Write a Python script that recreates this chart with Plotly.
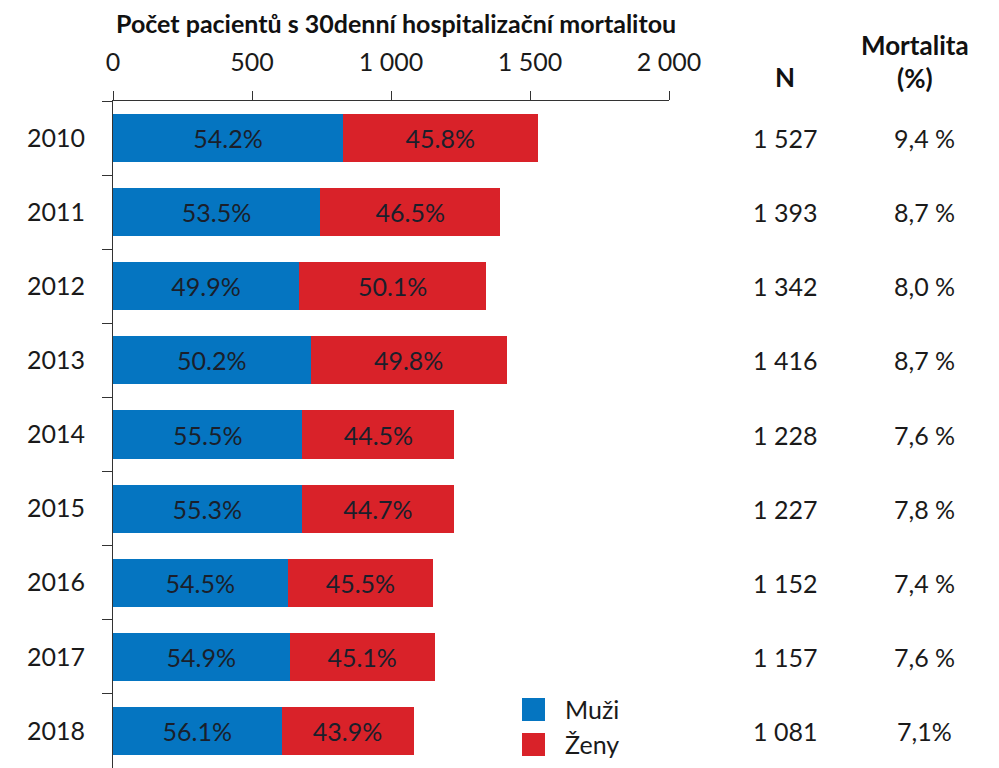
import plotly.graph_objects as go

# Data
roky = ["2010", "2011", "2012", "2013", "2014", "2015", "2016", "2017", "2018"]
n_celkem = [1527, 1393, 1342, 1416, 1228, 1227, 1152, 1157, 1081]
muzi_pct = [54.2, 53.5, 49.9, 50.2, 55.5, 55.3, 54.5, 54.9, 56.1]
zeny_pct = [45.8, 46.5, 50.1, 49.8, 44.5, 44.7, 45.5, 45.1, 43.9]
mortalita = ["9,4 %", "8,7 %", "8,0 %", "8,7 %", "7,6 %", "7,8 %", "7,4 %", "7,6 %", "7,1%"]
osa_x = [0, 500, 1000, 1500, 2000]
osa_x_text = ["0", "500", "1 000", "1 500", "2 000"]
legenda = ["Muži", "Ženy"]

MODRA = "#0575C1"
CERVENA = "#D92229"
FONT = "Lato"
FS = 25

muzi = [n * p / 100 for n, p in zip(n_celkem, muzi_pct)]
zeny = [n * p / 100 for n, p in zip(n_celkem, zeny_pct)]

fig = go.Figure()
for hodnoty, pct, barva, jmeno in [(muzi, muzi_pct, MODRA, legenda[0]), (zeny, zeny_pct, CERVENA, legenda[1])]:
    fig.add_trace(go.Bar(
        y=roky, x=hodnoty, orientation="h", name=jmeno, showlegend=False,
        marker=dict(color=barva, line=dict(width=0)),
        text=[f"{p:.1f}%" for p in pct],
        textposition="inside", insidetextanchor="middle",
        textfont=dict(family=FONT, size=FS, color="#1a1f2b"),
    ))

# pixel (stránka) -> paper; plocha grafu x 113..669, y 101..768
px = lambda x: (x - 113) / 556
py = lambda y: (768 - y) / 667

# Sloupce N a mortalita vpravo (y = index kategorie)
anot = []
for i, (n, m) in enumerate(zip(n_celkem, mortalita)):
    anot.append(dict(x=px(785), y=i, xref="paper", yref="y", xanchor="center", yanchor="middle",
                     text=f"{n:,}".replace(",", " "),
                     showarrow=False, font=dict(family=FONT, size=FS, color="#1a1a1a")))
    anot.append(dict(x=px(924), y=i, xref="paper", yref="y", xanchor="center", yanchor="middle",
                     text=m, showarrow=False, font=dict(family=FONT, size=FS, color="#1a1a1a")))

# hlavičky
hlavicky = [
    (785, 77, "<b>N</b>", 26),
    (915, 45, "<b>Mortalita</b>", 26),
    (915, 78, "<b>(%)</b>", 26),
    (396, 23, "<b>Počet pacientů s 30denní hospitalizační mortalitou</b>", 25),
]
for x, y, txt, fs in hlavicky:
    anot.append(dict(x=px(x), y=py(y), xref="paper", yref="paper", xanchor="center", yanchor="middle",
                     text=txt, showarrow=False, font=dict(family=FONT, size=fs, color="#111")))

# vlastní legenda se čtverci
shapes = []
for j, (jmeno, barva) in enumerate(zip(legenda, [MODRA, CERVENA])):
    y0 = 698 + 35 * j
    shapes.append(dict(type="rect", xref="paper", yref="paper", x0=px(522), x1=px(545),
                       y0=py(y0 + 23), y1=py(y0), fillcolor=barva, line=dict(width=0)))
    anot.append(dict(x=px(563), y=py(y0 + 11), xref="paper", yref="paper", xanchor="left",
                     yanchor="middle", text=jmeno, showarrow=False,
                     font=dict(family=FONT, size=FS, color="#1a1a1a")))

# stránka má okraj 8 px, proto 991x760
fig.update_layout(
    barmode="stack",
    bargap=0.35,
    width=991, height=760,
    margin=dict(l=105, r=330, t=93, b=0),
    paper_bgcolor="white", plot_bgcolor="white",
    font=dict(family=FONT, size=FS, color="#1a1a1a"),
    xaxis=dict(side="top", range=[0, 2000], tickvals=osa_x, ticktext=osa_x_text,
               showline=True, linecolor="#333", linewidth=1, ticks="outside",
               ticklen=9, tickcolor="#333", showgrid=False, zeroline=False,
               ticklabelstandoff=10, tickfont=dict(size=FS)),
    yaxis=dict(type="category", range=[8.5, -0.5], showline=True, linecolor="#333",
               linewidth=1, ticks="outside", tickson="boundaries", ticklen=10,
               tickcolor="#333", showgrid=False, ticklabelstandoff=22,
               tickfont=dict(size=FS)),
    uniformtext=dict(minsize=10, mode="show"),
    annotations=anot,
    shapes=shapes,
)

fig.write_html("out.html")
